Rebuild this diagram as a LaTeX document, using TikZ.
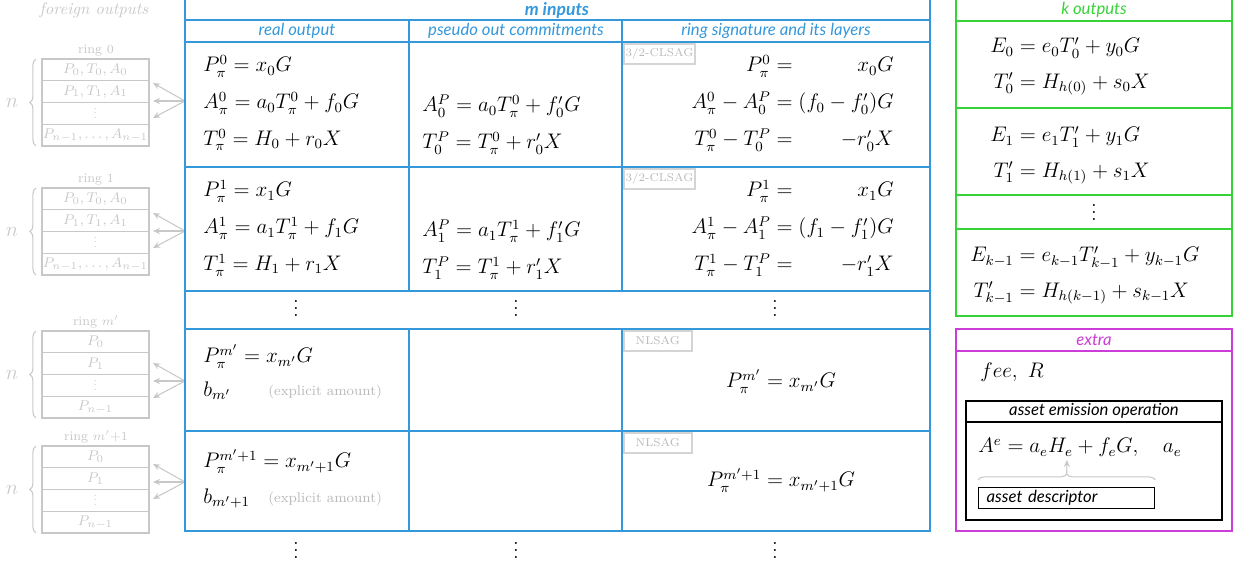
\documentclass[tikz,border=0pt]{standalone}
\usepackage{amsmath}
\usepackage{graphicx}
\usepackage{fontspec}
\setsansfont{Lato}
\usetikzlibrary{arrows.meta,positioning,calc,decorations.pathreplacing}
\definecolor{inblue}{RGB}{52,152,219}
\definecolor{outgreen}{RGB}{55,210,55}
\definecolor{extrapink}{RGB}{204,60,214}
\definecolor{foreign}{RGB}{200,200,200}
\definecolor{tagline}{RGB}{212,212,212}
\definecolor{tagtext}{RGB}{185,185,185}
\newcommand{\vdotsmid}[1]{\raisebox{-0.3\height}[0pt][0pt]{\scalebox{#1}{$\vdots$}}}

\begin{document}
\begin{tikzpicture}[x=0.02cm,y=-0.02cm,
  font=\fontsize{12}{14}\selectfont,
  frame/.style={line width=0.8pt},
  hd/.style={font=\sffamily\itshape\fontsize{9.5}{11}\selectfont,inner sep=0pt},
  eqn/.style={anchor=base west,inner sep=0pt},
  eqr/.style={anchor=base east,inner sep=0pt},
  tagbox/.style={draw=tagline,line width=1pt,anchor=north west,minimum width=1.36cm,
                 minimum height=0.4cm,inner sep=1pt,text=tagtext,
                 font=\fontsize{6.5}{7.5}\selectfont},
  ringrow/.style={draw=foreign,line width=0.6pt,minimum width=2.14cm,minimum height=0.435cm,
                  inner sep=0pt,outer sep=0pt,text=foreign,font=\fontsize{8.5}{10}\selectfont},
  ringlab/.style={text=foreign,font=\fontsize{7.5}{9}\selectfont,inner sep=0pt},
  fan/.style={-{Stealth[length=4pt,width=3.5pt]},draw=foreign,line width=0.6pt},
  brc/.style={decorate,decoration={brace,amplitude=3.5pt},draw=foreign,line width=0.6pt},
  descbox/.style={draw,line width=0.8pt,anchor=north west,minimum height=0.42cm,
                  text width=3.2cm,inner xsep=0.16cm,inner ysep=0pt,align=left,
                  font=\sffamily\itshape\fontsize{9.5}{11}\selectfont}]
\useasboundingbox (0,0) rectangle (1241,570);

% foreign rings
\node[text=foreign,font=\itshape\fontsize{9.5}{11}\selectfont] (fo) at (94,10) {foreign outputs};
\foreach \id/\top/\lab/\ta/\tb/\td/\oy in {
    r0/59/0/{P_0,T_0,A_0}/{P_1,T_1,A_1}/{P_{n-1},\dots,A_{n-1}}/101,
    r1/188/1/{P_0,T_0,A_0}/{P_1,T_1,A_1}/{P_{n-1},\dots,A_{n-1}}/231,
    rm/331/m'/P_0/P_1/P_{n-1}/381,
    rn/446/m'{+}1/P_0/P_1/P_{n-1}/482}{
  \node[ringlab,anchor=base] (\id-l) at (96,\top-5) {ring $\lab$};
  \node[ringrow,anchor=north west] (\id-1) at (42,\top) {$\ta$};
  \node[ringrow,below=0pt of \id-1] (\id-2) {$\tb$};
  \node[ringrow,below=0pt of \id-2] (\id-3) {\vdotsmid{0.7}};
  \node[ringrow,below=0pt of \id-3] (\id-4) {$\td$};
  \draw[brc] ([xshift=-0.12cm]\id-4.south west) -- ([xshift=-0.12cm]\id-1.north west);
  \node[text=foreign,inner sep=0pt,font=\fontsize{13}{15}\selectfont] (\id-n)
    at ($(\id-1.north west)!0.5!(\id-4.south west)+(-30,0)$) {$n$};
  \coordinate (\id-o) at (185,\oy);
  \foreach \k/\dy in {a/-18,b/0,c/17}{
    \coordinate (\id-\k) at ($(\id-o)+(-32,\dy)$);
    \draw[fan] (\id-o) -- (\id-\k);
  }
}

% m inputs table
\draw[frame,draw=inblue] (185,-2) rectangle (930,531);
\foreach \y in {20,42,167,291,329,431}
  \draw[frame,draw=inblue] (185,\y) -- (930,\y);
\foreach \x in {409,622}{
  \draw[frame,draw=inblue] (\x,20) -- (\x,291);
  \draw[frame,draw=inblue] (\x,329) -- (\x,531);
}
\node[hd,text=inblue,font=\sffamily\itshape\bfseries\fontsize{10}{12}\selectfont] (minp) at (557,10) {m inputs};
\node[hd,text=inblue] (hreal) at (297,31) {real output};
\node[hd,text=inblue] (hpseudo) at (516,31) {pseudo out commitments};
\node[hd,text=inblue] (hring) at (776,31) {ring signature and its layers};

\node[tagbox] (tag0) at (623,43) {3/2-CLSAG};
\node[tagbox] (tag1) at (623,168) {3/2-CLSAG};
\node[tagbox] (tagm) at (623,330) {NLSAG};
\node[tagbox] (tagn) at (623,432) {NLSAG};

% ring 0 and ring 1
\foreach \i/\b in {0/72,1/197}{
  \node[eqn] (real\i) at (203,\b) {$\begin{array}[t]{@{}l@{}}
      P_\pi^\i = x_\i G\\[7pt]
      A_\pi^\i = a_\i T_\pi^\i+f_\i G\\[7pt]
      T_\pi^\i = H_\i+r_\i X
    \end{array}$};
  \node[eqn] (pseudo\i) at (422,\b+40) {$\begin{array}[t]{@{}l@{}}
      A_\i^P = a_\i T_\pi^\i+f'_\i G\\[7pt]
      T_\i^P = T_\pi^\i+r'_\i X
    \end{array}$};
  \node[eqr] (sig\i) at (894,\b) {$\begin{array}[t]{@{}r@{}r@{}}
      P_\pi^\i ={} & x_\i G\\[7pt]
      A_\pi^\i-A_\i^P ={} & (f_\i-f'_\i)G\\[7pt]
      T_\pi^\i-T_\i^P ={} & -r'_\i X
    \end{array}$};
}
\node (dreal) at (296,309) {\vdotsmid{1}};
\node (dpseudo) at (516,309) {\vdotsmid{1}};
\node (dsig) at (775,309) {\vdotsmid{1}};

% ring m' and m'+1
\node[eqn] (realm) at (203,363) {$\begin{array}[t]{@{}l@{}}
    P_\pi^{m'} = x_{m'}G\\[5pt]
    b_{m'}
  \end{array}$};
\node[eqn,text=tagtext,font=\fontsize{8}{10}\selectfont] (explm) at (268,396) {(explicit amount)};
\node[anchor=base,inner sep=0pt] (sigm) at (781,388) {$P_\pi^{m'} = x_{m'}G$};
\node[eqn] (realn) at (203,468) {$\begin{array}[t]{@{}l@{}}
    P_\pi^{m'+1} = x_{m'+1}G\\[6pt]
    b_{m'+1}
  \end{array}$};
\node[eqn,text=tagtext,font=\fontsize{8}{10}\selectfont] (expln) at (268,503) {(explicit amount)};
\node[anchor=base,inner sep=0pt] (sign) at (781,487) {$P_\pi^{m'+1} = x_{m'+1}G$};

\node (ereal) at (296,551) {\vdotsmid{1}};
\node (epseudo) at (516,551) {\vdotsmid{1}};
\node (esig) at (775,551) {\vdotsmid{1}};

% k outputs
\draw[frame,draw=outgreen] (956,-2) rectangle (1232,316);
\foreach \y in {21,108,195,229}
  \draw[frame,draw=outgreen] (956,\y) -- (1232,\y);
\node[hd,text=outgreen] (kout) at (1094,10) {k outputs};
\node[eqn] (out0) at (990,53) {$\begin{array}[t]{@{}r@{}l@{}}
    E_0 &{}= e_0T'_0+y_0G\\[6pt]
    T'_0 &{}= H_{h(0)}+s_0X
  \end{array}$};
\node[eqn] (out1) at (990,142) {$\begin{array}[t]{@{}r@{}l@{}}
    E_1 &{}= e_1T'_1+y_1G\\[6pt]
    T'_1 &{}= H_{h(1)}+s_1X
  \end{array}$};
\node (dout) at (1094,213) {\vdotsmid{1}};
\node[eqn] (outk) at (970,262) {$\begin{array}[t]{@{}r@{}l@{}}
    E_{k-1} &{}= e_{k-1}T'_{k-1}+y_{k-1}G\\[6pt]
    T'_{k-1} &{}= H_{h(k-1)}+s_{k-1}X
  \end{array}$};

% extra
\draw[frame,draw=extrapink] (956,329) rectangle (1232,531);
\draw[frame,draw=extrapink] (956,351) -- (1232,351);
\node[hd,text=extrapink] (xtra) at (1094,340) {extra};
\node[eqn] (fee) at (980,378) {$fee,\ R$};
\draw[frame] (966,401) rectangle (1222,520);
\draw[frame] (966,422) -- (1222,422);
\node[hd] (aeo) at (1094,411) {asset emission operation};
\node[eqn] (aform) at (978,453) {$A^e = a_eH_e + f_eG,\quad a_e$};
\node[descbox] (adesc) at (978,487) {asset descriptor};
\coordinate (he) at (1067,460);
\draw[brc] ([yshift=0.14cm]adesc.north west) -- ([yshift=0.14cm]adesc.north east);
\draw[fan] ([yshift=0.27cm]adesc.north) -- (he);
\end{tikzpicture}
\end{document}
